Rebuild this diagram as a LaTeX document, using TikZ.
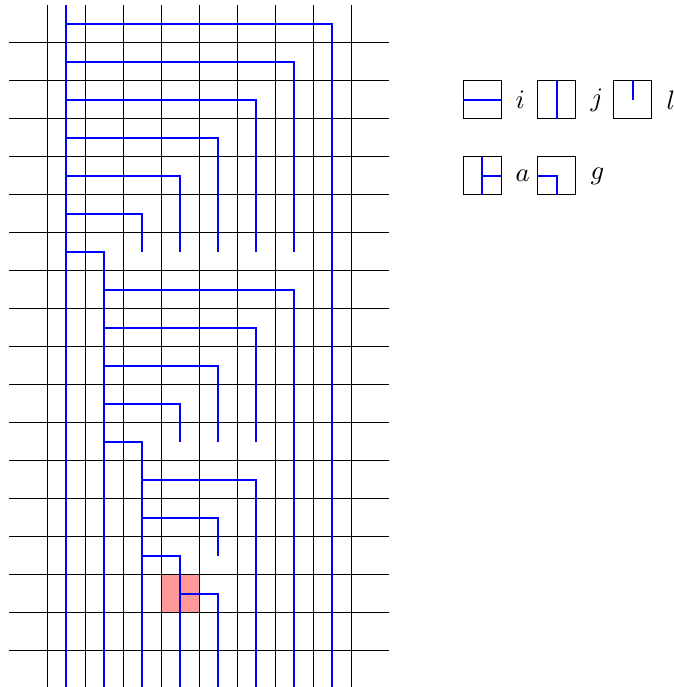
\documentclass[tikz,border=0pt]{standalone}
\usetikzlibrary{positioning}

\begin{document}
\begin{tikzpicture}[
    x=5mm, y=5mm,
    grid/.style={draw=black, line width=0.35pt},
    wire/.style={draw=blue, line width=1pt},
    tile/.style={
      draw,
      line width=0.35pt,
      minimum size=5mm,
      inner sep=0pt,
      outer sep=0pt
    },
    lab/.style={inner sep=1pt}
]
  \useasboundingbox (-0.237,0.13) rectangle (17.5,-17.95);

  % Highlighted cell
  \fill[red!40] (4,-15) rectangle (5,-16);

  % Grid
  \foreach \x in {1,...,9}
    \draw[grid] (\x,0) -- (\x,-18);
  \foreach \y in {1,...,17}
    \draw[grid] (0,-\y) -- (10,-\y);

  % First block of wires
  \draw[wire] (1.5,0) -- (1.5,-18);
  \draw[wire] (1.5,-0.5) -- (8.5,-0.5) -- (8.5,-18);
  \draw[wire] (1.5,-1.5) -- (7.5,-1.5) -- (7.5,-6.5);
  \draw[wire] (1.5,-2.5) -- (6.5,-2.5) -- (6.5,-6.5);
  \draw[wire] (1.5,-3.5) -- (5.5,-3.5) -- (5.5,-6.5);
  \draw[wire] (1.5,-4.5) -- (4.5,-4.5) -- (4.5,-6.5);
  \draw[wire] (1.5,-5.5) -- (3.5,-5.5) -- (3.5,-6.5);
  \draw[wire] (1.5,-6.5) -- (2.5,-6.5) -- (2.5,-18);

  % Second block of wires
  \draw[wire] (2.5,-7.5) -- (7.5,-7.5) -- (7.5,-18);
  \draw[wire] (2.5,-8.5) -- (6.5,-8.5) -- (6.5,-11.5);
  \draw[wire] (2.5,-9.5) -- (5.5,-9.5) -- (5.5,-11.5);
  \draw[wire] (2.5,-10.5) -- (4.5,-10.5) -- (4.5,-11.5);
  \draw[wire] (2.5,-11.5) -- (3.5,-11.5) -- (3.5,-18);

  % Third block of wires
  \draw[wire] (3.5,-12.5) -- (6.5,-12.5) -- (6.5,-18);
  \draw[wire] (3.5,-13.5) -- (5.5,-13.5) -- (5.5,-14.5);
  \draw[wire] (3.5,-14.5) -- (4.5,-14.5) -- (4.5,-18);
  \draw[wire] (4.5,-15.5) -- (5.5,-15.5) -- (5.5,-18);

  % Legend tiles
  \node[tile] (ti) at (12.45,-2.5) {};
  \node[tile] (tj) at (14.42,-2.5) {};
  \node[tile] (tl) at (16.42,-2.5) {};
  \node[tile] (ta) at (12.45,-4.5) {};
  \node[tile] (tg) at (14.42,-4.5) {};

  \draw[wire] (ti.west) -- (ti.east);
  \draw[wire] (tj.north) -- (tj.south);
  \draw[wire] (tl.north) -- (tl.center);
  \draw[wire] (ta.north) -- (ta.south);
  \draw[wire] (ta.center) -- (ta.east);
  \draw[wire] (tg.west) -- (tg.center) -- (tg.south);

  % Legend labels
  \node[lab, right=1.5mm of ti] {$i$};
  \node[lab, right=1.5mm of tj] {$j$};
  \node[lab, right=1.5mm of tl] {$l$};
  \node[lab, right=1.5mm of ta] {$a$};
  \node[lab, right=1.5mm of tg] {$g$};
\end{tikzpicture}
\end{document}
